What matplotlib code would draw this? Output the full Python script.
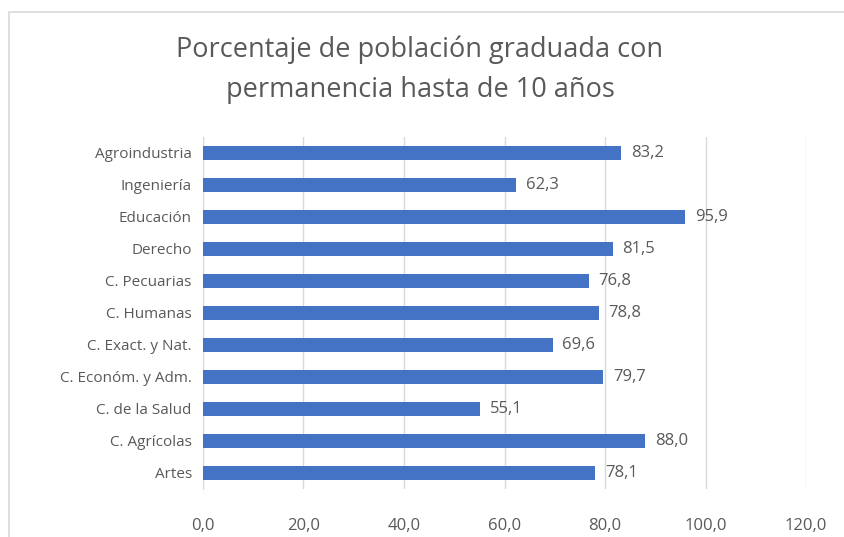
import matplotlib.pyplot as plt
from matplotlib.patches import Rectangle

categories = ['Artes', 'C. Agrícolas', 'C. de la Salud', 'C. Económ. y Adm.',
              'C. Exact. y Nat.', 'C. Humanas', 'C. Pecuarias', 'Derecho',
              'Educación', 'Ingeniería', 'Agroindustria']
values = [78.1, 88.0, 55.1, 79.7, 69.6, 78.8, 76.8, 81.5, 95.9, 62.3, 83.2]
x_ticks = [0, 20, 40, 60, 80, 100, 120]

title = 'Porcentaje de población graduada con\npermanencia hasta de 10 años'

plt.rcParams['font.family'] = ['Open Sans', 'DejaVu Sans']
text_color = '#595959'

fig = plt.figure(figsize=(8.44, 5.37), dpi=100)
ax = fig.add_axes([0.2405, 0.0894, 0.7145, 0.6555])

# chart border (light gray, only top/left visible in the crop)
fig.patches.append(Rectangle((9 / 844, -0.05), 1.1, 1 - 12 / 537 + 0.05,
                             transform=fig.transFigure, fill=False,
                             edgecolor='#D9D9D9', linewidth=1.2))

y = range(len(categories))
bars = ax.barh(y, values, height=0.41, color='#4472C4', zorder=3)

for b, v in zip(bars, values):
    ax.annotate(f'{v:.1f}'.replace('.', ','), (b.get_width(), b.get_y() + b.get_height() / 2),
                xytext=(7, 0), textcoords='offset points', va='center', ha='left',
                fontsize=12, color=text_color)

ax.set_xlim(0, 120)
ax.set_ylim(-0.5, len(categories) - 0.5)
ax.set_xticks(x_ticks)
ax.set_xticklabels([f'{t:.1f}'.replace('.', ',') for t in x_ticks])
ax.set_yticks(list(y))
ax.set_yticklabels(categories)
ax.tick_params(axis='x', length=0, labelsize=12, colors=text_color, pad=21)
ax.tick_params(axis='y', length=0, labelsize=11, colors=text_color, pad=8)
ax.grid(axis='x', color='#D9D9D9', linewidth=1, zorder=0)
for s in ['top', 'right', 'bottom']:
    ax.spines[s].set_visible(False)
ax.spines['left'].set_color('#D9D9D9')

fig.text(0.5 - 2 / 844, 1 - 70 / 537, title, ha='center', va='center', fontsize=19.5,
         color=text_color, linespacing=1.55)

fig.savefig('out.png', dpi=100)
